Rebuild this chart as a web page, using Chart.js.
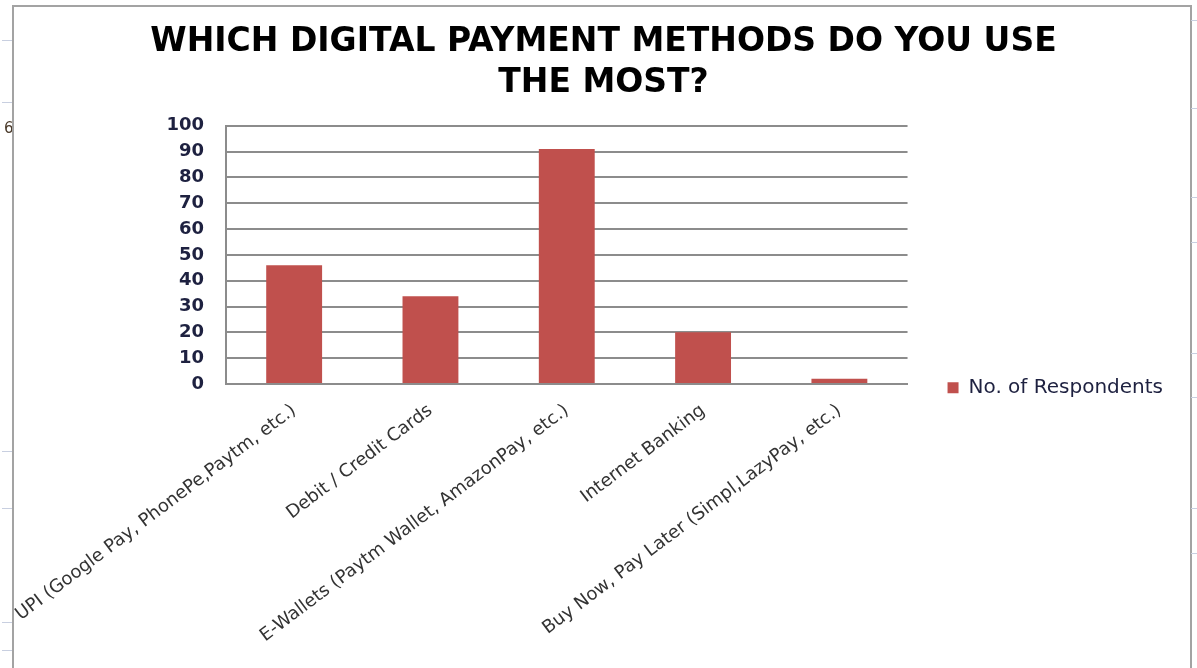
<!DOCTYPE html>
<html>
<head>
<meta charset="utf-8">
<script src="https://cdn.jsdelivr.net/npm/chart.js@4.4.1/dist/chart.umd.min.js"></script>
<style>
  html, body { margin: 0; padding: 0; background: #fff; }
  #wrap { position: relative; width: 1197px; height: 668px; overflow: hidden; }
  #chartCanvas { position: absolute; left: 0; top: 0; }
  /* frame of the embedded chart object */
  #frame {
    position: absolute; left: 12px; top: 5px; width: 1176px; height: 680px;
    border: 2px solid #a3a3a3; pointer-events: none;
  }
  .mark { position: absolute; height: 1px; background: #c8cfe0; width: 10px; }
  #cell {
    position: absolute; left: 4px; top: 119px; width: 8px; overflow: hidden;
    font: 15px "DejaVu Sans", sans-serif; color: #4a3a2a;
  }
</style>
</head>
<body>
<div id="wrap">
  <canvas id="chartCanvas" width="1197" height="668"></canvas>
  <div id="frame"></div>
  <div id="cell">6</div>
  <div class="mark" style="left:2px;top:40px"></div>
  <div class="mark" style="left:2px;top:102px"></div>
  <div class="mark" style="left:2px;top:451px"></div>
  <div class="mark" style="left:2px;top:508px"></div>
  <div class="mark" style="left:2px;top:622px"></div>
  <div class="mark" style="left:2px;top:650px"></div>
  <div class="mark" style="left:1191px;top:20px"></div>
  <div class="mark" style="left:1191px;top:108px"></div>
  <div class="mark" style="left:1191px;top:197px"></div>
  <div class="mark" style="left:1191px;top:242px"></div>
  <div class="mark" style="left:1191px;top:353px"></div>
  <div class="mark" style="left:1191px;top:397px"></div>
  <div class="mark" style="left:1191px;top:508px"></div>
  <div class="mark" style="left:1191px;top:553px"></div>
</div>
<script>
// survey results: preferred digital payment method
const methods = [
  'UPI (Google Pay, PhonePe,Paytm, etc.)',
  'Debit / Credit Cards',
  'E-Wallets (Paytm Wallet, AmazonPay, etc.)',
  'Internet Banking',
  'Buy Now, Pay Later (Simpl,LazyPay, etc.)'
];
const respondents = [46, 34, 91, 20, 2];
const yTicks = [0, 10, 20, 30, 40, 50, 60, 70, 80, 90, 100];

const ctx = document.getElementById('chartCanvas').getContext('2d');
const chart = new Chart(ctx, {
  type: 'bar',
  data: {
    labels: methods,
    datasets: [{
      label: 'No. of Respondents',
      data: respondents,
      backgroundColor: '#c0504d',
      borderWidth: 0,
      categoryPercentage: 1,
      barPercentage: 0.41
    }]
  },
  options: {
    responsive: false,
    animation: false,
    layout: { padding: { left: 34, right: 24, top: 5, bottom: 20 } },
    scales: {
      x: {
        grid: { display: false, drawTicks: false },
        border: { color: '#8c8c8c', width: 2 },
        ticks: {
          minRotation: 37, maxRotation: 37, padding: 16,
          color: '#333',
          font: { family: 'DejaVu Sans', size: 18 }
        },
        afterFit: (axis) => {
          axis.height = 264;
          // long rotated labels may run into the left margin
          axis.paddingLeft = 0;
          axis.paddingRight = 0;
        }
      },
      y: {
        min: 0, max: 100,
        afterBuildTicks: (axis) => { axis.ticks = yTicks.map(v => ({ value: v })); },
        grid: { color: '#8c8c8c', lineWidth: 2, drawTicks: false },
        border: { color: '#8c8c8c', width: 2 },
        ticks: {
          padding: 22,
          color: '#1e2140',
          font: { family: 'DejaVu Sans', size: 18, weight: 'bold' }
        },
        afterFit: (axis) => { axis.width = 192; }
      }
    },
    plugins: {
      title: {
        display: true,
        text: ['WHICH DIGITAL PAYMENT METHODS DO YOU USE', 'THE MOST?'],
        color: '#000',
        font: { family: 'DejaVu Sans', size: 33, weight: 'bold', lineHeight: 1.27 },
        padding: { top: 16, bottom: 21 }
      },
      legend: {
        position: 'right',
        align: 'center',
        // blank legend title pushes the entry down to the x-axis level
        title: { display: true, text: ' ', font: { size: 2 }, padding: { top: 120, bottom: 0 } },
        labels: {
          boxWidth: 11, boxHeight: 11, padding: 40,
          color: '#1e2140',
          font: { family: 'DejaVu Sans', size: 20 }
        }
      },
      tooltip: { enabled: false }
    }
  }
});
</script>
</body>
</html>
